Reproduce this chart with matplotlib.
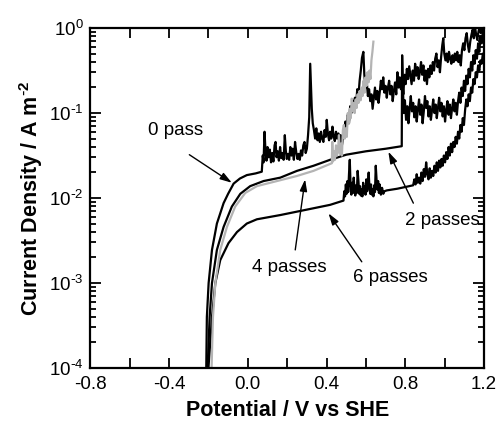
import numpy as np
import matplotlib
matplotlib.use("Agg")
import matplotlib.pyplot as plt
from matplotlib.ticker import MultipleLocator, LogLocator, FuncFormatter, NullFormatter

plt.rcParams['font.family'] = ['Liberation Sans', 'DejaVu Sans']
plt.rcParams['mathtext.default'] = 'regular'
plt.rcParams['axes.unicode_minus'] = False

# ---------------- data (potential V vs SHE, log10 current density A m^-2) -------------
pass0_E = [-0.214, -0.211, -0.208, -0.199, -0.182, -0.157, -0.123, -0.100, -0.072, -0.040, -0.005, 0.040,
           0.071, 0.076, 0.080, 0.085, 0.090, 0.095, 0.100, 0.106, 0.112, 0.118, 0.124, 0.130, 0.136, 0.141,
           0.146, 0.152, 0.158, 0.164, 0.170, 0.176, 0.182, 0.188, 0.193, 0.198, 0.204, 0.210, 0.216, 0.222,
           0.228, 0.234, 0.240, 0.246, 0.252, 0.258, 0.264, 0.270, 0.276, 0.282, 0.288, 0.294, 0.300, 0.306,
           0.312, 0.317, 0.321, 0.325, 0.330, 0.336, 0.342, 0.348, 0.354, 0.360, 0.366, 0.372, 0.378, 0.384,
           0.390, 0.396, 0.401, 0.407, 0.413, 0.418, 0.424, 0.430, 0.436, 0.442, 0.448, 0.454, 0.460, 0.466,
           0.472, 0.478, 0.484, 0.490, 0.496, 0.502, 0.508, 0.514, 0.520, 0.526, 0.532, 0.538, 0.544, 0.550,
           0.556, 0.562, 0.568, 0.574, 0.580, 0.587, 0.592, 0.598, 0.604, 0.610, 0.616, 0.622, 0.628, 0.634,
           0.640, 0.646, 0.652, 0.658, 0.664, 0.670, 0.676, 0.682, 0.688, 0.694, 0.700, 0.706, 0.712, 0.718,
           0.724, 0.730, 0.736, 0.742, 0.748, 0.754, 0.760, 0.766, 0.772, 0.778, 0.784, 0.790, 0.796, 0.802,
           0.808, 0.814, 0.820, 0.826, 0.832, 0.838, 0.844, 0.850, 0.856, 0.862, 0.868, 0.874, 0.880, 0.886,
           0.892, 0.898, 0.904, 0.910, 0.916, 0.922, 0.928, 0.934, 0.940, 0.946, 0.952, 0.958, 0.964, 0.970,
           0.976, 0.982, 0.988, 0.993, 0.998, 1.004, 1.010, 1.016, 1.022, 1.028, 1.034, 1.040, 1.046, 1.052,
           1.058, 1.064, 1.070, 1.076, 1.082, 1.088, 1.094, 1.100, 1.106, 1.112, 1.118, 1.124, 1.130, 1.136,
           1.142, 1.148, 1.154, 1.160, 1.166, 1.172, 1.178, 1.184, 1.190, 1.196, 1.202]
pass0_logj = [-4.6, -4.0, -3.4, -3.0, -2.61, -2.30, -2.06, -1.95, -1.83, -1.77, -1.73, -1.71,
              -1.69, -1.50, -1.58, -1.22, -1.45, -1.56, -1.40, -1.52, -1.43, -1.58, -1.47, -1.57, -1.38, -1.34,
              -1.52, -1.45, -1.56, -1.40, -1.53, -1.47, -1.55, -1.26, -1.44, -1.54, -1.48, -1.55, -1.40, -1.50,
              -1.42, -1.55, -1.34, -1.46, -1.54, -1.48, -1.55, -1.44, -1.50, -1.38, -1.34, -1.47, -1.42, -1.26,
              -1.05, -0.42, -0.70, -0.95, -1.12, -1.20, -1.30, -1.18, -1.32, -1.24, -1.34, -1.22, -1.30, -1.34,
              -1.20, -1.28, -1.08, -1.25, -1.32, -1.22, -1.30, -1.16, -1.27, -1.33, -1.22, -1.30, -1.24, -1.36,
              -1.26, -1.38, -1.30, -1.22, -1.10, -1.18, -1.02, -1.12, -0.92, -1.00, -0.85, -0.95, -0.82, -0.90,
              -0.72, -0.80, -0.62, -0.50, -0.35, -0.28, -0.55, -0.70, -0.62, -0.80, -0.72, -0.86, -0.78, -0.95,
              -0.82, -0.70, -0.84, -0.74, -0.88, -0.76, -0.62, -0.72, -0.58, -0.76, -0.68, -0.82, -0.70, -0.62,
              -0.78, -0.68, -0.86, -0.74, -0.64, -0.78, -0.52, -0.70, -0.58, -0.72, -0.60, -0.78, -0.55, -0.66,
              -0.48, -0.60, -0.45, -0.56, -0.66, -0.50, -0.62, -0.42, -0.56, -0.46, -0.60, -0.52, -0.40, -0.55,
              -0.44, -0.62, -0.50, -0.66, -0.48, -0.58, -0.44, -0.54, -0.40, -0.50, -0.36, -0.30, -0.46, -0.38,
              -0.52, -0.34, -0.20, -0.12, -0.30, -0.38, -0.30, -0.40, -0.28, -0.36, -0.42, -0.32, -0.40, -0.30,
              -0.38, -0.28, -0.40, -0.32, -0.44, -0.26, -0.18, -0.26, -0.12, -0.06, -0.20, -0.28, -0.16, -0.08,
              -0.02, -0.12, 0.02, -0.08, -0.14, -0.04, 0.02, -0.06, 0.03, -0.05, 0.05]

pass2_E = [-0.209, -0.204, -0.194, -0.182, -0.157, -0.123, -0.081, -0.038, 0.012, 0.080, 0.165, 0.250,
           0.334, 0.418, 0.500, 0.600, 0.700, 0.782, 0.784, 0.788, 0.792, 0.798, 0.804, 0.810, 0.816, 0.822,
           0.828, 0.834, 0.840, 0.846, 0.852, 0.858, 0.864, 0.870, 0.876, 0.882, 0.888, 0.894, 0.900, 0.906,
           0.912, 0.918, 0.924, 0.930, 0.936, 0.942, 0.948, 0.954, 0.960, 0.966, 0.972, 0.978, 0.984, 0.990,
           0.996, 1.002, 1.008, 1.014, 1.020, 1.026, 1.032, 1.038, 1.044, 1.050, 1.056, 1.062, 1.068, 1.074,
           1.080, 1.086, 1.092, 1.098, 1.104, 1.110, 1.116, 1.122, 1.128, 1.134, 1.140, 1.146, 1.152, 1.158,
           1.164, 1.170, 1.176, 1.182, 1.188, 1.194, 1.200]
pass2_logj = [-4.6, -4.0, -3.40, -3.00, -2.61, -2.34, -2.10, -1.95, -1.86, -1.80, -1.76, -1.68,
              -1.62, -1.55, -1.49, -1.45, -1.42, -1.39, -0.32, -0.70, -1.00, -0.85, -1.08, -0.92, -1.12, -0.95,
              -0.80, -0.98, -0.88, -1.05, -0.92, -1.10, -0.96, -0.84, -1.02, -0.90, -1.12, -0.98, -0.80, -0.94,
              -0.86, -1.04, -0.92, -1.08, -0.96, -0.84, -1.00, -0.90, -1.06, -0.94, -0.82, -0.98, -0.88, -1.04,
              -0.92, -1.10, -0.96, -0.86, -1.02, -0.90, -1.06, -0.94, -0.84, -0.98, -0.88, -1.02, -0.86, -0.76,
              -0.88, -0.70, -0.80, -0.62, -0.74, -0.56, -0.66, -0.48, -0.58, -0.40, -0.50, -0.32, -0.42, -0.26,
              -0.36, -0.18, -0.28, -0.10, -0.18, -0.04, -0.12]

pass4_E = [-0.190, -0.184, -0.177, -0.165, -0.140, -0.106, -0.064, -0.013, 0.046, 0.165, 0.250, 0.334,
           0.427, 0.429, 0.433, 0.438, 0.443, 0.448, 0.453, 0.458, 0.463, 0.468, 0.473, 0.478, 0.483, 0.488,
           0.493, 0.498, 0.503, 0.508, 0.513, 0.518, 0.523, 0.528, 0.533, 0.538, 0.543, 0.548, 0.553, 0.558,
           0.563, 0.568, 0.573, 0.578, 0.583, 0.588, 0.593, 0.598, 0.603, 0.608, 0.613, 0.618, 0.623, 0.628,
           0.633, 0.638]
pass4_logj = [-4.6, -4.0, -3.40, -3.00, -2.61, -2.34, -2.10, -1.94, -1.86, -1.79, -1.74, -1.68,
              -1.59, -1.34, -1.57, -1.45, -1.55, -1.38, -1.50, -1.44, -1.26, -1.48, -1.36, -1.50, -1.20, -1.14,
              -1.30, -1.18, -1.28, -1.00, -1.12, -0.95, -1.06, -0.83, -0.98, -0.88, -1.00, -0.84, -0.94, -0.78,
              -0.88, -0.74, -0.85, -0.70, -0.80, -0.62, -0.76, -0.58, -0.68, -0.52, -0.64, -0.50, -0.60, -0.38,
              -0.28, -0.16]

pass6_E = [-0.206, -0.200, -0.182, -0.165, -0.140, -0.098, -0.055, -0.005, 0.046, 0.165, 0.334, 0.418,
           0.486, 0.490, 0.494, 0.498, 0.502, 0.506, 0.510, 0.514, 0.518, 0.522, 0.526, 0.530, 0.534, 0.538,
           0.542, 0.546, 0.550, 0.554, 0.558, 0.562, 0.566, 0.570, 0.574, 0.578, 0.582, 0.586, 0.590, 0.594,
           0.598, 0.602, 0.606, 0.610, 0.614, 0.618, 0.622, 0.626, 0.630, 0.634, 0.638, 0.642, 0.646, 0.650,
           0.654, 0.658, 0.662, 0.666, 0.670, 0.676, 0.682, 0.688, 0.694, 0.706, 0.760, 0.800, 0.840, 0.846,
           0.852, 0.858, 0.864, 0.870, 0.876, 0.882, 0.888, 0.894, 0.900, 0.906, 0.912, 0.918, 0.924, 0.930,
           0.936, 0.942, 0.948, 0.954, 0.960, 0.966, 0.972, 0.978, 0.984, 0.990, 0.996, 1.002, 1.008, 1.014,
           1.020, 1.026, 1.032, 1.038, 1.044, 1.050, 1.056, 1.062, 1.068, 1.074, 1.080, 1.086, 1.092, 1.098,
           1.104, 1.110, 1.116, 1.122, 1.128, 1.134, 1.140, 1.146, 1.152, 1.158, 1.164, 1.170, 1.176, 1.182,
           1.188, 1.194, 1.200]
pass6_logj = [-4.6, -4.0, -3.40, -3.00, -2.73, -2.53, -2.40, -2.30, -2.25, -2.20, -2.12, -2.08,
              -2.03, -1.92, -1.98, -1.84, -1.95, -1.80, -1.93, -1.72, -1.55, -1.85, -1.96, -1.82, -1.94, -1.76,
              -1.90, -1.97, -1.85, -1.94, -1.68, -1.80, -1.95, -1.86, -1.97, -1.90, -1.98, -1.82, -1.94, -1.86,
              -1.96, -1.78, -1.92, -1.84, -1.70, -1.88, -1.95, -1.84, -1.96, -1.90, -1.98, -1.85, -1.93, -1.62,
              -1.78, -1.90, -1.80, -1.94, -1.84, -1.96, -1.88, -1.95, -1.92, -1.91, -1.89, -1.87, -1.85, -1.78,
              -1.84, -1.72, -1.82, -1.76, -1.83, -1.70, -1.80, -1.66, -1.75, -1.58, -1.72, -1.78, -1.65, -1.76,
              -1.68, -1.74, -1.62, -1.70, -1.58, -1.68, -1.56, -1.64, -1.54, -1.62, -1.50, -1.58, -1.46, -1.54,
              -1.40, -1.50, -1.36, -1.46, -1.34, -1.40, -1.28, -1.36, -1.22, -1.30, -1.14, -1.22, -1.06, -1.14,
              -0.96, -0.84, -0.92, -0.78, -0.86, -0.70, -0.76, -0.60, -0.66, -0.52, -0.58, -0.44, -0.50, -0.38,
              -0.42, -0.30, -0.34]

curve_colors = ['black', 'black', '#b4b4b4', 'black']

labels = ['0 pass', '2 passes', '4 passes', '6 passes']
label_pos_E = [-0.506, 0.800, 0.021, 0.535]
label_pos_logj = [-1.21, -2.26, -2.82, -2.94]
arrow_tail_E = [-0.297, 0.841, 0.241, 0.579]
arrow_tail_logj = [-1.49, -2.06, -2.61, -2.75]
arrow_head_E = [-0.081, 0.714, 0.291, 0.410]
arrow_head_logj = [-1.82, -1.455, -1.78, -2.18]

xticks = [-0.8, -0.4, 0.0, 0.4, 0.8, 1.2]

# ---------------- figure -------------
fig = plt.figure(figsize=(4.99, 4.25), dpi=100)
ax = fig.add_axes([0.181, 0.134, 0.789, 0.800])

series = [(pass0_E, pass0_logj, curve_colors[0]), (pass2_E, pass2_logj, curve_colors[1]),
          (pass6_E, pass6_logj, curve_colors[3]), (pass4_E, pass4_logj, curve_colors[2])]
for E, lj, c in series:
    ax.plot(E, 10.0 ** np.array(lj), color=c, lw=1.6, solid_joinstyle='round')

ax.set_yscale('log')
ax.set_xlim(-0.8, 1.2)
ax.set_ylim(1e-4, 1e0)

ax.set_xticks(xticks)
ax.set_xticklabels(['%.1f' % v for v in xticks])
ax.xaxis.set_minor_locator(MultipleLocator(0.2))
ax.yaxis.set_major_locator(LogLocator(base=10, numticks=10))
ax.yaxis.set_minor_locator(LogLocator(base=10, subs=np.arange(2, 10), numticks=20))
ax.yaxis.set_minor_formatter(NullFormatter())


def ylab(v, p):
    e = int(round(np.log10(v)))
    if e < 0:
        return r'$\mathregular{10^{\text{-}%d}}$' % (-e)
    return r'$\mathregular{10^{%d}}$' % e


ax.yaxis.set_major_formatter(FuncFormatter(ylab))

ax.tick_params(which='both', direction='in', top=True, right=True, labelsize=13.5, width=1.3)
ax.tick_params(axis='x', which='both', length=7, pad=6)
ax.tick_params(axis='y', which='major', length=8, pad=5)
ax.tick_params(axis='y', which='minor', length=4)
for s in ax.spines.values():
    s.set_linewidth(1.6)

ax.set_xlabel('Potential / V vs SHE', fontsize=15.5, fontweight='bold', labelpad=5)
ax.set_ylabel(r'Current Density / A m$\mathregular{^{\text{-}2}}$', fontsize=15.5, fontweight='bold', labelpad=3)

for i, lab in enumerate(labels):
    ax.text(label_pos_E[i], 10 ** label_pos_logj[i], lab, fontsize=13.5, ha='left', va='center')
    ax.annotate('', xy=(arrow_head_E[i], 10 ** arrow_head_logj[i]),
                xytext=(arrow_tail_E[i], 10 ** arrow_tail_logj[i]),
                arrowprops=dict(arrowstyle='-|>,head_length=0.7,head_width=0.22', color='black', lw=1.0,
                                shrinkA=0, shrinkB=0))

fig.savefig('out.png', dpi=100)
